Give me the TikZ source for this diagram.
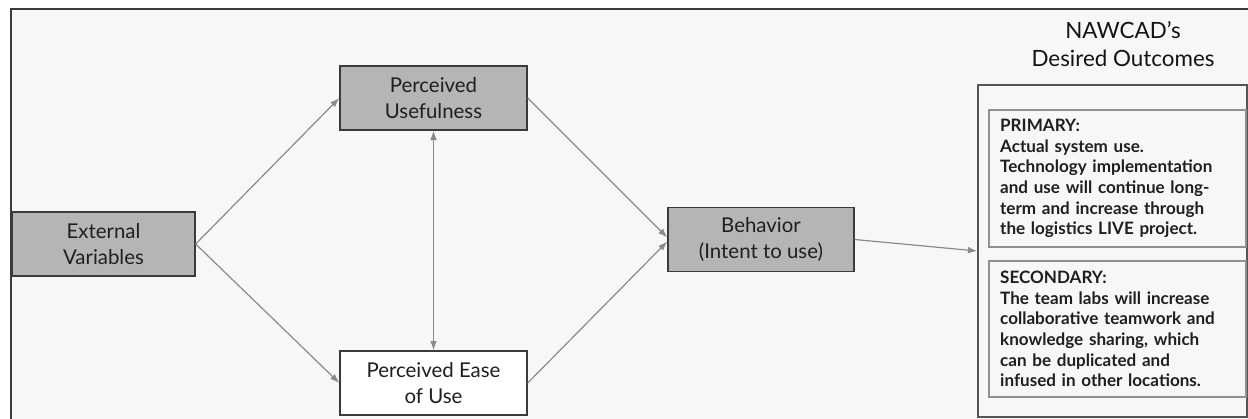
\documentclass[tikz,border=0pt]{standalone}
\usepackage{fontspec}
\setmainfont{Lato}
\usetikzlibrary{arrows.meta}

\begin{document}
\begin{tikzpicture}[x=0.75pt,y=-0.75pt]
\definecolor{panelBg}{HTML}{F7F7F7}
\definecolor{boxGray}{HTML}{B5B5B5}
\definecolor{edgeDark}{HTML}{3A3A3A}
\definecolor{arrowGray}{HTML}{8A8A8A}
\definecolor{outEdge}{HTML}{555555}
\definecolor{subEdge}{HTML}{909090}
\tikzset{
  tamBox/.style={draw=edgeDark,line width=1pt,align=center,inner sep=0pt,
    minimum height=48pt,font=\fontsize{15.3}{19}\selectfont,text=black!88},
  linkArrow/.style={draw=arrowGray,line width=0.9pt,-{Latex[length=7pt,width=5pt]}},
  goalBox/.style={draw=subEdge,line width=1pt,align=left,inner xsep=8.25pt,inner ysep=0pt,
    text width=176pt,minimum width=192.75pt,font=\fontsize{12.8}{15.5}\selectfont\bfseries,text=black!88}
}
\useasboundingbox (0,0) rectangle (1248,418);
% frame of the slide
\fill[panelBg] (11,9) rectangle (1250,420);
\draw[edgeDark,line width=1.8pt] (11,420) -- (11,9) -- (1250,9);
% model boxes
\node[tamBox,fill=boxGray,minimum width=137.25pt] (ext) at (103.5,244) {External\\Variables};
\node[tamBox,fill=boxGray,minimum width=140.25pt] (pu) at (433.5,98) {Perceived\\Usefulness};
\node[tamBox,fill=white,minimum width=140.25pt] (peu) at (433.5,383) {Perceived Ease\\of Use};
\node[tamBox,fill=boxGray,minimum width=139.5pt] (beh) at (761,239.5) {Behavior\\(Intent to use)};
% outcomes
\node[font=\fontsize{16.8}{21}\selectfont,align=center,text=black!92] (ttl) at (1123,44) {NAWCAD’s\\Desired Outcomes};
\node[draw=outEdge,line width=1.1pt,minimum width=201.75pt,minimum height=249pt] (out) at (1112.5,251) {};
\node[goalBox,minimum height=102.75pt] (prim) at (1117.5,178.5)
  {PRIMARY:\\Actual system use.\\Technology implementation\\and use will continue long-\\term and increase through\\the logistics LIVE project.};
\node[goalBox,minimum height=102pt] (sec) at (1117.5,329)
  {SECONDARY:\\The team labs will increase\\collaborative teamwork and\\knowledge sharing, which\\can be duplicated and\\infused in other locations.};
% connectors
\draw[linkArrow] (ext.east) -- (pu.west);
\draw[linkArrow] (ext.east) -- (peu.west);
\draw[linkArrow,{Latex[length=7pt,width=5pt]}-{Latex[length=7pt,width=5pt]}] (pu.south) -- (peu.north);
\draw[linkArrow] (pu.east) -- ([yshift=1.5pt]beh.west);
\draw[linkArrow] (peu.east) -- ([yshift=-1.5pt]beh.west);
\draw[linkArrow] (beh.east) -- (out.west);
\end{tikzpicture}
\end{document}
